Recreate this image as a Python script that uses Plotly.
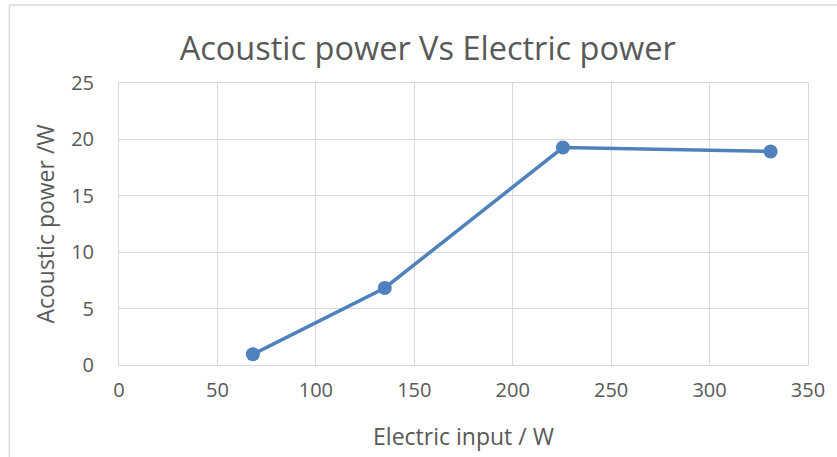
import plotly.graph_objects as go

# Measured data
electric_input_w = [68, 135, 225.5, 331]
acoustic_power_w = [0.95, 6.83, 19.28, 18.93]

x_ticks = [0, 50, 100, 150, 200, 250, 300, 350]
y_ticks = [0, 5, 10, 15, 20, 25]

line_color = "#4F81BD"
text_color = "#595959"
grid_color = "#D9D9D9"
font_family = "Open Sans, Noto Sans, sans-serif"

fig = go.Figure(
    go.Scatter(
        x=electric_input_w,
        y=acoustic_power_w,
        mode="lines+markers",
        line=dict(color=line_color, width=3.5),
        marker=dict(color=line_color, size=14),
        showlegend=False,
    )
)

fig.update_layout(
    width=837,
    height=457,
    margin=dict(l=119, r=25, t=83, b=92),
    paper_bgcolor="white",
    plot_bgcolor="white",
    font=dict(family=font_family, color=text_color),
    title=dict(
        text="Acoustic power Vs Electric power",
        x=0.511,
        xanchor="center",
        y=0.893,
        yanchor="middle",
        font=dict(size=32.5, color=text_color),
    ),
    shapes=[
        dict(
            type="rect", xref="paper", yref="paper",
            x0=-0.159, x1=1.2, y0=-0.5, y1=1.277,
            line=dict(color="#D9D9D9", width=1.5),
            fillcolor="rgba(0,0,0,0)", layer="below",
        )
    ],
)

fig.update_xaxes(
    range=[0, 350],
    tickvals=x_ticks,
    ticks="",
    showgrid=True,
    gridcolor=grid_color,
    gridwidth=1,
    zeroline=False,
    showline=True,
    linecolor=grid_color,
    linewidth=1,
    mirror=True,
    tickfont=dict(size=20, color=text_color),
    ticklabelstandoff=7,
    title=dict(text="Electric input / W", font=dict(size=23, color=text_color), standoff=26),
)
fig.update_yaxes(
    range=[0, 25],
    tickvals=y_ticks,
    ticks="",
    showgrid=True,
    gridcolor=grid_color,
    gridwidth=1,
    zeroline=False,
    showline=True,
    linecolor=grid_color,
    linewidth=1,
    mirror=True,
    tickfont=dict(size=20, color=text_color),
    ticklabelstandoff=20,
    title=dict(text="Acoustic power /W", font=dict(size=23, color=text_color), standoff=10),
)

fig.write_html("out.html")
